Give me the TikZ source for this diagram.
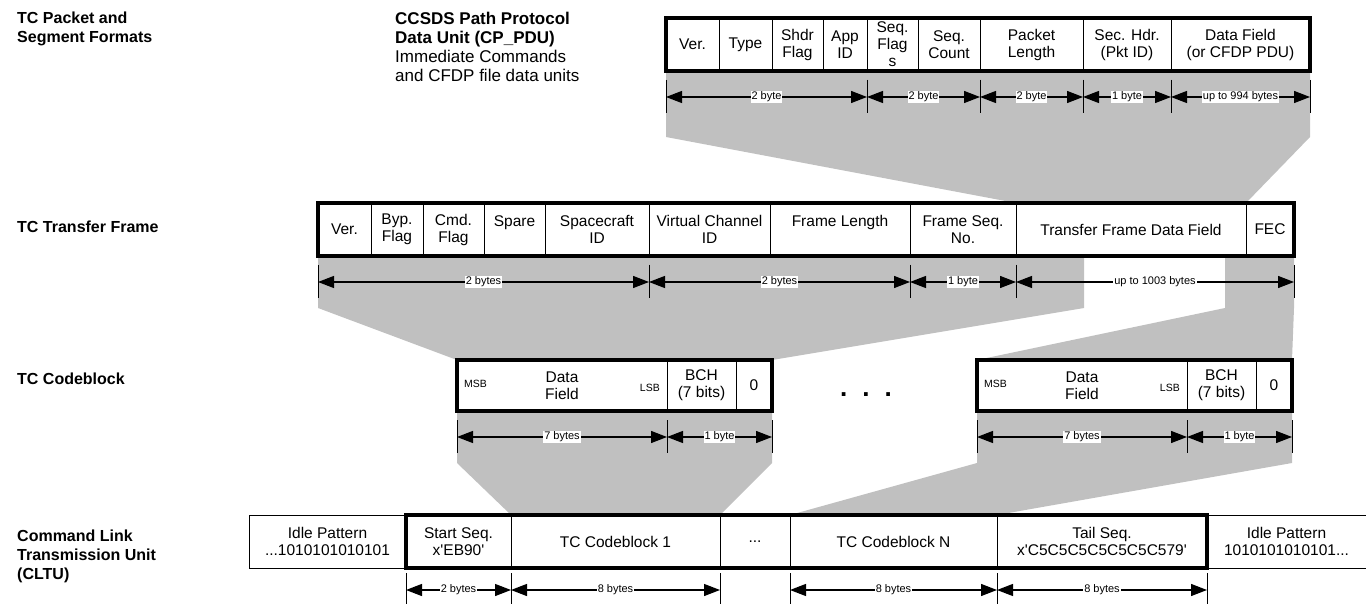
\documentclass[tikz,border=0pt]{standalone}
\usepackage{fontspec}
\setmainfont{Liberation Sans}
\usepackage{tikz}
\usetikzlibrary{positioning,calc,arrows.meta,backgrounds}
\definecolor{InkBlack}{HTML}{000000}
\definecolor{BandGray}{HTML}{C0C0C0}

% size arrow with its two end ticks: [offset]{from}{to}{label}
\newcommand{\spanline}[4][26]{%
  \draw [sizetick] ($(#2)+(0,#1-17)$) -- ($(#2)+(0,#1+16)$);
  \draw [sizetick] ($(#3)+(0,#1-17)$) -- ($(#3)+(0,#1+16)$);
  \draw [<->, sizeline] ($(#2)+(0,#1)$) -- node [sizetext] {#4} ($(#3)+(0,#1)$);
}

\begin{document}
\begin{tikzpicture}[x=1pt, y=-1pt, node distance=0pt, >={Triangle[length=16pt,width=12pt]},
    cell/.style={draw=InkBlack, line width=1pt, fill=white, minimum height=53pt, inner sep=0pt, outer sep=0pt, align=center, font=\fontsize{15.5}{17}\selectfont},
    boxrim/.style={draw=InkBlack, line width=4pt},
    sizetick/.style={draw=InkBlack, line width=0.8pt},
    sizeline/.style={draw=InkBlack, line width=1.3pt},
    sizetext/.style={fill=white, inner sep=1pt, font=\fontsize{11}{12}\selectfont},
    band/.style={fill=BandGray},
    rowlabel/.style={anchor=north west, inner sep=0pt, align=left, font=\fontsize{16}{19}\selectfont\bfseries},
    bitmark/.style={inner sep=0pt, font=\fontsize{10.5}{12}\selectfont}]
  \useasboundingbox (0,0) rectangle (1366,604);

  % Row titles
  \node [rowlabel] (ttlpacket) at (17,12) {TC Packet and\\Segment Formats};
  \node [rowlabel, font=\fontsize{17}{19}\selectfont] (ttlpdu) at (395,12)
    {\textbf{CCSDS Path Protocol}\\\textbf{Data Unit (CP\_PDU)}\\Immediate Commands\\and CFDP file data units};
  \node [rowlabel] (ttlframe) at (17,221) {TC Transfer Frame};
  \node [rowlabel] (ttlblock) at (17,373) {TC Codeblock};
  \node [rowlabel] (ttlcltu) at (17,530) {Command Link\\Transmission Unit\\(CLTU)};

  % Packet
  \node [cell, minimum width=53pt, anchor=north west] (pver) at (666,18) {Ver.};
  \node [cell, minimum width=53pt, right=of pver] (ptype) {Type};
  \node [cell, minimum width=51pt, right=of ptype] (pshdr) {Shdr\\Flag};
  \node [cell, minimum width=44pt, right=of pshdr] (papp) {App\\ID};
  \node [cell, minimum width=51pt, right=of papp] (pflags) {Seq.\\Flag\\s};
  \node [cell, minimum width=62pt, right=of pflags] (pcount) {Seq.\\Count};
  \node [cell, minimum width=103pt, right=of pcount] (plen) {Packet\\Length};
  \node [cell, minimum width=88pt, right=of plen] (psec) {Sec. Hdr.\\(Pkt ID)};
  \node [cell, minimum width=139pt, right=of psec] (pdata) {Data Field\\(or CFDP PDU)};
  \draw [boxrim] (pver.north west) rectangle (pdata.south east);

  % Transfer frame
  \node [cell, minimum width=53pt, anchor=north west] (fver) at (318,203) {Ver.};
  \node [cell, minimum width=52pt, right=of fver] (fbyp) {Byp.\\Flag};
  \node [cell, minimum width=61pt, right=of fbyp] (fcmd) {Cmd.\\Flag};
  \node [cell, minimum width=61pt, right=of fcmd] (fspare) {Spare\\\mbox{}};
  \node [cell, minimum width=104pt, right=of fspare] (fscid) {Spacecraft\\ID};
  \node [cell, minimum width=121pt, right=of fscid] (fvcid) {Virtual Channel\\ID};
  \node [cell, minimum width=140pt, right=of fvcid] (flen) {Frame Length\\\mbox{}};
  \node [cell, minimum width=106pt, right=of flen] (fseq) {Frame Seq.\\No.};
  \node [cell, minimum width=230pt, right=of fseq] (fdata) {Transfer Frame Data Field};
  \node [cell, minimum width=48pt, right=of fdata] (ffec) {FEC};
  \draw [boxrim] (fver.north west) rectangle (ffec.south east);

  % Codeblocks
  \node [cell, minimum width=210pt, minimum height=51pt, anchor=north west] (c1data) at (457,360) {Data\\Field};
  \node [cell, minimum width=69pt, minimum height=51pt, right=of c1data] (c1bch) {BCH\\(7 bits)};
  \node [cell, minimum width=36pt, minimum height=51pt, right=of c1bch] (c1zero) {0};
  \node [bitmark, anchor=west] (c1msb) at ($(c1data.west)+(7,-2)$) {MSB};
  \node [bitmark, anchor=east] (c1lsb) at ($(c1data.east)+(-7,2)$) {LSB};
  \draw [boxrim] (c1data.north west) rectangle (c1zero.south east);

  \node [font=\fontsize{26}{28}\selectfont\bfseries, inner sep=0pt] (cgap) at (866,395) {.\hspace{15pt}.\hspace{15pt}.};

  \node [cell, minimum width=210pt, minimum height=51pt, anchor=north west] (cndata) at (977,360) {Data\\Field};
  \node [cell, minimum width=69pt, minimum height=51pt, right=of cndata] (cnbch) {BCH\\(7 bits)};
  \node [cell, minimum width=36pt, minimum height=51pt, right=of cnbch] (cnzero) {0};
  \node [bitmark, anchor=west] (cnmsb) at ($(cndata.west)+(7,-2)$) {MSB};
  \node [bitmark, anchor=east] (cnlsb) at ($(cndata.east)+(-7,2)$) {LSB};
  \draw [boxrim] (cndata.north west) rectangle (cnzero.south east);

  % CLTU
  \node [cell, minimum width=157pt, anchor=north west] (lidle) at (249,515) {Idle Pattern\\...1010101010101};
  \node [cell, minimum width=105pt, right=of lidle] (lstart) {Start Seq.\\x\textquotesingle EB90\textquotesingle};
  \node [cell, minimum width=209pt, right=of lstart] (lcb1) {TC Codeblock 1};
  \node [cell, minimum width=70pt, right=of lcb1] (ldots) {...};
  \node [cell, minimum width=207pt, right=of ldots] (lcbn) {TC Codeblock N};
  \node [cell, minimum width=210pt, right=of lcbn] (ltail) {Tail Seq.\\x\textquotesingle C5C5C5C5C5C5C579\textquotesingle};
  \node [cell, draw=none, minimum width=159pt, right=of ltail] (ridle) {Idle Pattern\\1010101010101...};
  \draw [line width=1pt] (ridle.north west) -- (ridle.north east);
  \draw [line width=1pt] (ridle.south west) -- (ridle.south east);
  \draw [boxrim] (lstart.north west) rectangle (ltail.south east);

  % Sizes
  \spanline{pver.south west}{papp.south east}{2 byte}
  \spanline{pflags.south west}{pcount.south east}{2 byte}
  \spanline{plen.south west}{plen.south east}{2 byte}
  \spanline{psec.south west}{psec.south east}{1 byte}
  \spanline{pdata.south west}{pdata.south east}{up to 994 bytes}

  \spanline{fver.south west}{fscid.south east}{2 bytes}
  \spanline{fvcid.south west}{flen.south east}{2 bytes}
  \spanline{fseq.south west}{fseq.south east}{1 byte}
  \spanline{fdata.south west}{ffec.south east}{up to 1003 bytes}

  \spanline{c1data.south west}{c1data.south east}{7 bytes}
  \spanline{c1bch.south west}{c1zero.south east}{1 byte}
  \spanline{cndata.south west}{cndata.south east}{7 bytes}
  \spanline{cnbch.south west}{cnzero.south east}{1 byte}

  \spanline[22]{lstart.south west}{lstart.south east}{2 bytes}
  \spanline[22]{lcb1.south west}{lcb1.south east}{8 bytes}
  \spanline[22]{lcbn.south west}{lcbn.south east}{8 bytes}
  \spanline[22]{ltail.south west}{ltail.south east}{8 bytes}

  % Gray bands
  \begin{scope}[on background layer]
    \fill [band] (pver.south west) -- (pdata.south east) -- ($(pdata.south east)+(0,66)$)
      -- (fdata.north east) -- (fdata.north west) -- ($(pver.south west)+(0,66)$) -- cycle;
    \fill [band] (fver.south west) -- (1084,256) -- (1084,308)
      -- (c1zero.north east) -- (c1data.north west) -- ($(fver.south west)+(0,52)$) -- cycle;
    \fill [band] (1225,256) -- (ffec.south east) -- ($(ffec.south east)+(0,52)$)
      -- (cnzero.north east) -- (cndata.north west) -- (1225,308) -- cycle;
    \fill [band] (c1data.south west) -- (c1zero.south east) -- ($(c1zero.south east)+(0,52)$)
      -- (lcb1.north east) -- (lcb1.north west) -- ($(c1data.south west)+(0,52)$) -- cycle;
    \fill [band] (cndata.south west) -- (cnzero.south east) -- ($(cnzero.south east)+(0,52)$)
      -- (lcbn.north east) -- (lcbn.north west) -- ($(cndata.south west)+(0,52)$) -- cycle;
  \end{scope}
\end{tikzpicture}
\end{document}
